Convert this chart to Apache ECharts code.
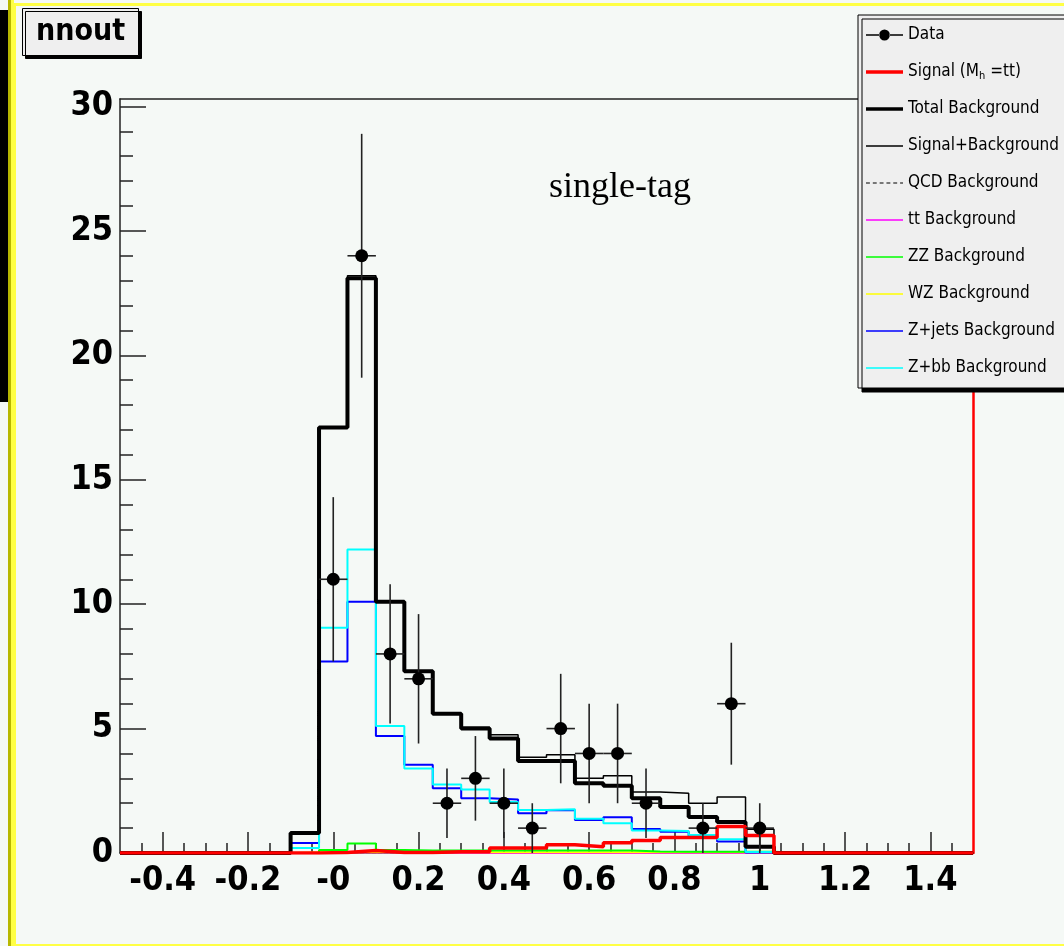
<!DOCTYPE html>
<html>
<head>
<meta charset="utf-8">
<script src="https://cdn.jsdelivr.net/npm/echarts@6/dist/echarts.min.js"></script>
<style>
    html, body { margin: 0; padding: 0; background: #f5f9f6; }
    #main { width: 1064px; height: 946px; }
</style>
</head>
<body>
<div id="main"></div>
<script>
// histogram binning: 30 bins from -0.5 to 1.5
var xMin = -0.5, xMax = 1.5, nBins = 30;

// bin contents (bin 0 .. bin 29)
var totalBkg  = [0,0,0,0,0,0, 0.8,17.1,23.1,10.1,7.3,5.6,5.0,4.6,3.7,3.7,2.8,2.7,2.2,1.85,1.45,1.25,0.25, 0,0,0,0,0,0,0];
var sigPlusBkg = [0,0,0,0,0,0, 0.8,17.1,23.2,10.1,7.3,5.6,5.05,4.75,3.85,3.95,3.0,3.1,2.45,2.4,2.0,2.25,0.95, 0,0,0,0,0,0,0];
var signal    = [0,0,0,0,0,0, 0,0.02,0.1,0.02,0.02,0.05,0.05,0.2,0.2,0.33,0.25,0.41,0.5,0.62,0.62,1.06,0.7, 0,0,0,0,0,0,0];
var qcdBkg    = [0,0,0,0,0,0, 0,0,0,0,0,0,0,0,0,0,0,0,0,0,0,0,0, 0,0,0,0,0,0,0];
var ttBkg     = [0,0,0,0,0,0, 0,0.02,0.02,0.02,0.02,0,0,0,0,0,0,0,0,0,0,0,0, 0,0,0,0,0,0,0];
var zzBkg     = [0,0,0,0,0,0, 0,0.12,0.38,0.12,0.1,0.1,0.1,0.1,0.1,0.1,0.1,0.1,0.06,0.05,0.05,0.05,0.05, 0,0,0,0,0,0,0];
var wzBkg     = [0,0,0,0,0,0, 0.03,0.03,0.03,0.03,0.03,0.03,0.03,0.03,0.03,0.03,0.03,0.03,0.03,0.03,0.03,0.03,0.02, 0,0,0,0,0,0,0];
var zjetsBkg  = [0,0,0,0,0,0, 0.4,7.7,10.1,4.7,3.55,2.6,2.2,2.15,1.6,1.72,1.33,1.44,0.96,0.85,0.6,0.46,0.02, 0,0,0,0,0,0,0];
var zbbBkg    = [0,0,0,0,0,0, 0.2,9.05,12.2,5.1,3.4,2.75,2.55,2.05,1.73,1.76,1.38,1.2,0.9,0.88,0.72,0.55,0.04, 0,0,0,0,0,0,0];

// observed data and its error bars per bin (0 = no point drawn)
var dataCounts = [0,0,0,0,0,0, 0,11,24,8,7,2,3,2,1,5,4,4,2,0,1,6,1, 0,0,0,0,0,0,0];
var dataErrors = [0,0,0,0,0,0, 0,3.3,4.9,2.8,2.6,1.4,1.7,1.4,1.0,2.2,2.0,2.0,1.4,0,1.0,2.45,1.0, 0,0,0,0,0,0,0];

// axis ticks and labels
var xTickValues = [-0.4, -0.2, 0, 0.2, 0.4, 0.6, 0.8, 1.0, 1.2, 1.4];
var xTickLabels = ['-0.4', '-0.2', '-0', '0.2', '0.4', '0.6', '0.8', '1', '1.2', '1.4'];
var yTickValues = [0, 5, 10, 15, 20, 25, 30];
var yTickLabels = ['0', '5', '10', '15', '20', '25', '30'];

var binW = (xMax - xMin) / nBins;
var edges = [];
for (var k = 0; k <= nBins; k++) edges.push(xMin + k * binW);

var xMinor = [];
for (var v = -45; v < 150; v += 5) xMinor.push(v / 100);
var yMinor = [];
for (var j = 0; j <= 30; j++) yMinor.push(j);

function histPoints(vals) {
    var pts = [];
    for (var i = 0; i < nBins; i++) pts.push([edges[i], vals[i]]);
    pts.push([edges[nBins], vals[nBins - 1]]);
    return pts;
}

var dataPts = [];
for (var i = 0; i < nBins; i++) {
    if (dataCounts[i] > 0) {
        dataPts.push([edges[i] + binW / 2, dataCounts[i], dataErrors[i]]);
    }
}

var narrow = "'Liberation Sans Narrow', 'DejaVu Sans Condensed', 'Liberation Sans', sans-serif";

// legend icons in a 38x14 box (the leading moves pin the box size)
var box = 'path://M0,0 M38,14 ';
function lineIcon(t) {
    return box + 'M0,' + (7 - t / 2) + 'h38v' + t + 'H0z';
}
var dashIcon = box + 'M0,6.5h4v1H0z M7,6.5h4v1H7z M14,6.5h4v1H14z M21,6.5h4v1H21z M28,6.5h4v1H28z M35,6.5h3v1H35z';
var dataIcon = box + 'M0,6.2h14v1.6H0z M24,6.2h14v1.6H24z M19,1.5a5.5,5.5 0 1,0 0.01,0z';

function histSeries(name, vals, color, width, type, z) {
    return {
        name: name,
        type: 'line',
        step: 'end',
        symbol: 'none',
        data: histPoints(vals),
        lineStyle: { color: color, width: width, type: type || 'solid' },
        itemStyle: { color: color },
        z: z,
        silent: true
    };
}

var myChart = echarts.init(document.getElementById('main'));
var option = {
    backgroundColor: '#f5f9f6',
    animation: false,
    title: {
        text: 'nnout',
        left: 22,
        top: 8,
        padding: [7, 14, 7, 14],
        backgroundColor: '#efefef',
        borderColor: '#000',
        borderWidth: 1,
        shadowColor: '#000',
        shadowOffsetX: 3,
        shadowOffsetY: 3,
        textStyle: { fontFamily: narrow, fontWeight: 'bold', fontSize: 30, lineHeight: 34, color: '#000' }
    },
    graphic: [
        { type: 'rect', left: 0, top: 10, shape: { width: 8, height: 392 }, style: { fill: '#000' } },
        { type: 'rect', left: 8, top: 0, shape: { width: 3, height: 946 }, style: { fill: '#b8b800' } },
        { type: 'rect', left: 11, top: 0, shape: { width: 3, height: 946 }, style: { fill: '#ffff44' } },
        { type: 'rect', left: 12, top: 2, shape: { width: 1060, height: 941 }, style: { fill: 'none', stroke: '#ffff44', lineWidth: 3 } },
        { type: 'text', left: 549, top: 170, style: { text: 'single-tag', font: "36px 'Liberation Serif', 'DejaVu Serif', serif", fill: '#000' } }
    ],
    legend: {
        orient: 'vertical',
        left: 858,
        top: 15,
        padding: [10, 30, 10, 8],
        itemGap: 17,
        itemWidth: 37,
        itemHeight: 14,
        symbolKeepAspect: false,
        backgroundColor: '#efefef',
        borderColor: '#000',
        borderWidth: 1,
        borderRadius: 0,
        shadowColor: '#000',
        shadowOffsetX: 4,
        shadowOffsetY: 4,
        textStyle: {
            fontFamily: narrow, fontSize: 17, color: '#000', lineHeight: 20,
            rich: { sub: { fontFamily: narrow, fontSize: 11, verticalAlign: 'bottom', padding: [14, 0, 0, 0] } }
        },
        formatter: function (name) {
            if (name === 'Signal') return 'Signal (M{sub|h} =tt)';
            return name;
        },
        data: [
            { name: 'Data', icon: dataIcon },
            { name: 'Signal', icon: lineIcon(3.5) },
            { name: 'Total Background', icon: lineIcon(3.5) },
            { name: 'Signal+Background', icon: lineIcon(1.6) },
            { name: 'QCD Background', icon: dashIcon },
            { name: 'tt Background', icon: lineIcon(1.6) },
            { name: 'ZZ Background', icon: lineIcon(1.6) },
            { name: 'WZ Background', icon: lineIcon(1.6) },
            { name: 'Z+jets Background', icon: lineIcon(1.6) },
            { name: 'Z+bb Background', icon: lineIcon(1.6) }
        ]
    },
    grid: { left: 120, right: 91, top: 99, bottom: 93 },
    xAxis: [
        {
            type: 'value', min: xMin, max: xMax, position: 'bottom',
            axisLine: { onZero: false, lineStyle: { color: '#222', width: 1.5 } },
            axisTick: { inside: true, length: 21, customValues: xTickValues, lineStyle: { color: '#222', width: 1.5 } },
            axisLabel: {
                customValues: xTickValues, margin: 11,
                fontFamily: narrow, fontWeight: 'bold', fontSize: 34, color: '#000',
                formatter: function (val) {
                    var idx = xTickValues.findIndex(function (t) { return Math.abs(t - val) < 1e-6; });
                    return idx >= 0 ? xTickLabels[idx] : '';
                }
            },
            splitLine: { show: false }
        },
        {
            type: 'value', min: xMin, max: xMax, position: 'bottom',
            axisLine: { show: false, onZero: false },
            axisTick: { inside: true, length: 10, customValues: xMinor, lineStyle: { color: '#222', width: 1.5 } },
            axisLabel: { show: false },
            splitLine: { show: false }
        },
        {
            type: 'value', min: xMin, max: xMax, position: 'top',
            axisLine: { onZero: false, lineStyle: { color: '#222', width: 1.5 } },
            axisTick: { show: false },
            axisLabel: { show: false },
            splitLine: { show: false }
        }
    ],
    yAxis: [
        {
            type: 'value', min: 0, max: 30.3, position: 'left',
            axisLine: { show: true, onZero: false, lineStyle: { color: '#222', width: 1.5 } },
            axisTick: { show: true, inside: true, length: 26, customValues: yTickValues, lineStyle: { color: '#222', width: 1.5 } },
            axisLabel: {
                customValues: yTickValues, margin: 7,
                fontFamily: narrow, fontWeight: 'bold', fontSize: 34, color: '#000',
                formatter: function (val) {
                    var idx = yTickValues.indexOf(Math.round(val));
                    return idx >= 0 ? yTickLabels[idx] : '';
                }
            },
            splitLine: { show: false }
        },
        {
            type: 'value', min: 0, max: 30.3, position: 'left',
            axisLine: { show: false, onZero: false },
            axisTick: { show: true, inside: true, length: 13, customValues: yMinor, lineStyle: { color: '#222', width: 1.5 } },
            axisLabel: { show: false },
            splitLine: { show: false }
        },
        {
            type: 'value', min: 0, max: 30.3, position: 'right',
            axisLine: { show: true, onZero: false, lineStyle: { color: '#ff0000', width: 2.5 } },
            axisTick: { show: false },
            axisLabel: { show: false },
            splitLine: { show: false }
        }
    ],
    series: [
        histSeries('QCD Background', qcdBkg, '#000', 1, 'dashed', 2),
        histSeries('tt Background', ttBkg, '#ff00ff', 2, null, 3),
        histSeries('WZ Background', wzBkg, '#ffff00', 2, null, 3),
        histSeries('ZZ Background', zzBkg, '#00ff00', 2, null, 4),
        histSeries('Z+jets Background', zjetsBkg, '#0000ff', 2, null, 5),
        histSeries('Z+bb Background', zbbBkg, '#00ffff', 2, null, 6),
        histSeries('Signal+Background', sigPlusBkg, '#000', 1.5, null, 7),
        histSeries('Total Background', totalBkg, '#000', 4, null, 8),
        histSeries('Signal', signal, '#ff0000', 3.5, null, 9),
        {
            name: 'Data',
            type: 'custom',
            z: 10,
            silent: true,
            data: dataPts,
            renderItem: function (params, api) {
                var x = api.value(0), y = api.value(1), e = api.value(2);
                var top = api.coord([x, y + e]);
                var bot = api.coord([x, y - e]);
                var l = api.coord([x - binW / 2, y]);
                var r = api.coord([x + binW / 2, y]);
                var c = api.coord([x, y]);
                return {
                    type: 'group',
                    children: [
                        { type: 'line', shape: { x1: top[0], y1: top[1], x2: bot[0], y2: bot[1] }, style: { stroke: '#222', lineWidth: 1.6 } },
                        { type: 'line', shape: { x1: l[0], y1: l[1], x2: r[0], y2: r[1] }, style: { stroke: '#222', lineWidth: 1.6 } },
                        { type: 'circle', shape: { cx: c[0], cy: c[1], r: 6.5 }, style: { fill: '#000' } }
                    ]
                };
            },
            itemStyle: { color: '#000' }
        }
    ]
};
myChart.setOption(option);
</script>
</body>
</html>
